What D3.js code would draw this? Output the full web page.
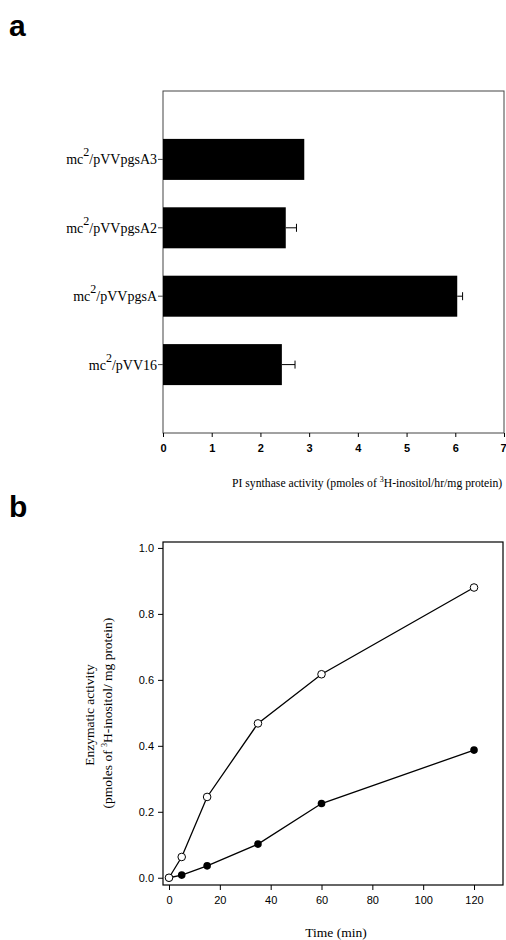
<!DOCTYPE html>
<html>
<head>
<meta charset="utf-8">
<script src="https://cdn.jsdelivr.net/npm/d3@7"></script>
<style>
  body { margin: 0; background: #fff; }
  svg { display: block; }
  .tick text { font-family: "Liberation Sans", Arial, sans-serif; }
</style>
</head>
<body>
<div class="svg-container"></div>
<script>
// panel a: PI synthase activity per strain
const strains = ["pVVpgsA3", "pVVpgsA2", "pVVpgsA", "pVV16"];
const activity = [2.9, 2.52, 6.04, 2.44];
const activityErr = [0, 0.22, 0.11, 0.27];
const activityTicks = [0, 1, 2, 3, 4, 5, 6, 7];

// panel b: enzymatic activity over time
const timeMin = [0, 5, 15, 35, 60, 120];
const openSeries = [0, 0.063, 0.245, 0.468, 0.617, 0.88];
const filledSeries = [0, 0.008, 0.036, 0.102, 0.225, 0.387];
const timeTicks = [0, 20, 40, 60, 80, 100, 120];
const enzTicks = [0, 0.2, 0.4, 0.6, 0.8, 1.0];

const W = 506, H = 940;
const serif = "'Liberation Serif', 'Times New Roman', serif";
const sans = "'Liberation Sans', Arial, sans-serif";

const svg = d3.select("div.svg-container")
  .append("svg")
  .attr("width", W)
  .attr("height", H)
  .style("background-color", "#fff");

// panel letters
svg.append("text").attr("x", 9).attr("y", 36)
  .attr("font-family", sans).attr("font-weight", "bold").attr("font-size", 30)
  .text("a");
svg.append("text").attr("x", 9).attr("y", 517)
  .attr("font-family", sans).attr("font-weight", "bold").attr("font-size", 30)
  .text("b");

// ---------- panel a ----------
const a = { left: 163, right: 504, top: 91, bottom: 433 };
const xa = d3.scaleLinear().domain([0, 7]).range([a.left, a.right]);
const ya = d3.scalePoint().domain(strains).range([a.top, a.bottom]).padding(1);
const barH = 41;

const gA = svg.append("g");

gA.append("rect")
  .attr("x", a.left).attr("y", a.top)
  .attr("width", a.right - a.left).attr("height", a.bottom - a.top)
  .attr("fill", "none").attr("stroke", "#444").attr("stroke-width", 1);

const rows = strains.map((s, i) => ({ s, v: activity[i], e: activityErr[i] }));

gA.append("g")
  .selectAll("rect")
  .data(rows)
  .join("rect")
  .attr("x", xa(0))
  .attr("y", (d) => ya(d.s) - barH / 2)
  .attr("width", (d) => xa(d.v) - xa(0))
  .attr("height", barH)
  .attr("fill", "#000");

const err = gA.append("g").attr("stroke", "#000").attr("stroke-width", 1)
  .selectAll("g")
  .data(rows.filter((d) => d.e > 0))
  .join("g");
err.append("line")
  .attr("x1", (d) => xa(d.v)).attr("x2", (d) => xa(d.v + d.e))
  .attr("y1", (d) => ya(d.s)).attr("y2", (d) => ya(d.s));
err.append("line")
  .attr("x1", (d) => xa(d.v + d.e)).attr("x2", (d) => xa(d.v + d.e))
  .attr("y1", (d) => ya(d.s) - 4).attr("y2", (d) => ya(d.s) + 4);

// category labels with superscript
const lab = gA.append("g")
  .attr("font-family", serif).attr("font-size", 14)
  .attr("text-anchor", "end")
  .selectAll("g")
  .data(strains)
  .join("g")
  .attr("transform", (d) => `translate(${a.left},${ya(d)})`);
lab.append("line").attr("x1", -5).attr("x2", 0).attr("stroke", "#444");
lab.append("text")
  .attr("x", -6).attr("y", 5)
  .each(function (d) {
    const t = d3.select(this);
    t.append("tspan").text("mc");
    t.append("tspan").attr("dy", -8).attr("font-size", 12).text("2");
    t.append("tspan").attr("dy", 8).text("/" + d);
  });

gA.append("g")
  .attr("transform", `translate(0,${a.bottom})`)
  .call(d3.axisBottom(xa).tickValues(activityTicks).tickSize(4).tickPadding(7).tickFormat(d3.format("d")))
  .call((g) => g.select(".domain").remove())
  .call((g) => g.selectAll(".tick text").attr("font-size", 11).attr("font-weight", "bold"))
  .call((g) => g.selectAll(".tick:last-of-type text").attr("text-anchor", "end").attr("dx", 2));

gA.append("text")
  .attr("x", 232).attr("y", 487)
  .attr("font-family", serif).attr("font-size", 11.7)
  .call((t) => {
    t.append("tspan").text("PI synthase activity (pmoles of ");
    t.append("tspan").attr("dy", -5).attr("font-size", 8).text("3");
    t.append("tspan").attr("dy", 5).text("H-inositol/hr/mg protein)");
  });

// ---------- panel b ----------
const b = { left: 163, right: 503, top: 542, bottom: 885 };
const xb = d3.scaleLinear().domain([-2.36, 131.4]).range([b.left, b.right]);
const yb = d3.scaleLinear().domain([-0.022, 1.018]).range([b.bottom, b.top]);

const gB = svg.append("g");

gB.append("rect")
  .attr("x", b.left).attr("y", b.top)
  .attr("width", b.right - b.left).attr("height", b.bottom - b.top)
  .attr("fill", "none").attr("stroke", "#000").attr("stroke-width", 1.2);

gB.append("g")
  .attr("transform", `translate(0,${b.bottom})`)
  .call(d3.axisBottom(xb).tickValues(timeTicks).tickSize(5).tickPadding(6))
  .call((g) => g.select(".domain").remove())
  .call((g) => g.selectAll(".tick text").attr("font-size", 11));

gB.append("g")
  .attr("transform", `translate(${b.left},0)`)
  .call(d3.axisLeft(yb).tickValues(enzTicks).tickSize(5).tickPadding(4).tickFormat(d3.format(".1f")))
  .call((g) => g.select(".domain").remove())
  .call((g) => g.selectAll(".tick text").attr("font-size", 11));

const line = d3.line().x((d) => xb(d[0])).y((d) => yb(d[1]));
const filledPts = timeMin.map((t, i) => [t, filledSeries[i]]);
const openPts = timeMin.map((t, i) => [t, openSeries[i]]);

gB.append("path").datum(filledPts).attr("d", line)
  .attr("fill", "none").attr("stroke", "#000").attr("stroke-width", 1.3);
gB.append("path").datum(openPts).attr("d", line)
  .attr("fill", "none").attr("stroke", "#000").attr("stroke-width", 1.3);

gB.append("g").selectAll("circle").data(filledPts).join("circle")
  .attr("cx", (d) => xb(d[0])).attr("cy", (d) => yb(d[1])).attr("r", 3.8)
  .attr("fill", "#000");
gB.append("g").selectAll("circle").data(openPts).join("circle")
  .attr("cx", (d) => xb(d[0])).attr("cy", (d) => yb(d[1])).attr("r", 3.8)
  .attr("fill", "#fff").attr("stroke", "#000").attr("stroke-width", 1);

gB.append("text")
  .attr("x", 336).attr("y", 937)
  .attr("text-anchor", "middle")
  .attr("font-family", serif).attr("font-size", 13.5)
  .text("Time (min)");

const yt = gB.append("g")
  .attr("font-family", serif).attr("font-size", 13.5)
  .attr("text-anchor", "middle");
yt.append("text")
  .attr("transform", "translate(94,715) rotate(-90)")
  .text("Enzymatic activity");
yt.append("text")
  .attr("transform", "translate(112,713) rotate(-90)")
  .call((t) => {
    t.append("tspan").text("(pmoles of ");
    t.append("tspan").attr("dy", -5).attr("font-size", 8).text("3");
    t.append("tspan").attr("dy", 5).text("H-inositol/ mg protein)");
  });
</script>
</body>
</html>
